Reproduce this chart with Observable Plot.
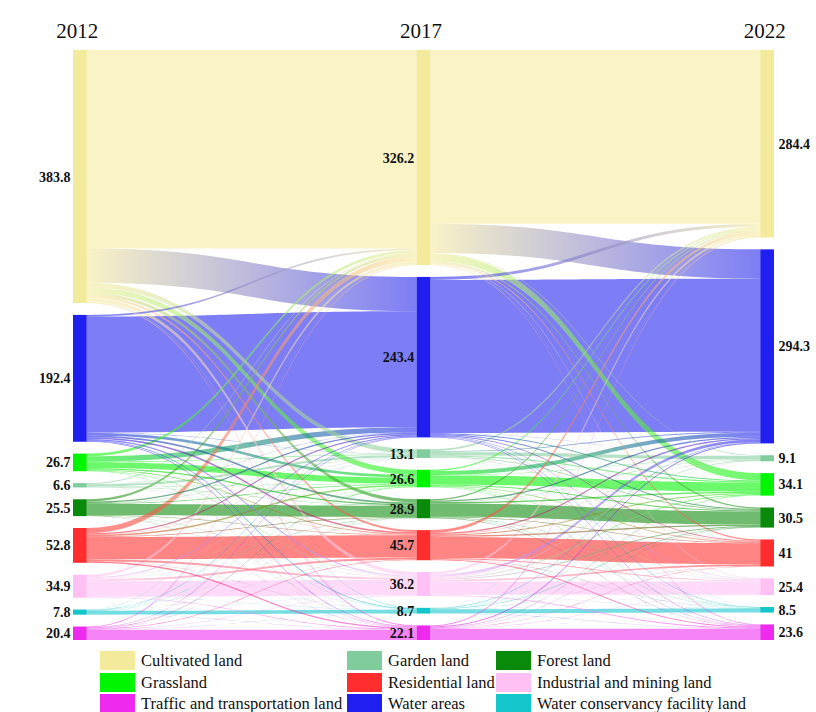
<!DOCTYPE html>
<html><head><meta charset="utf-8">
<script src="https://cdn.jsdelivr.net/npm/d3@7"></script>
<script src="https://cdn.jsdelivr.net/npm/@observablehq/plot@0.6"></script>
<style>
body{margin:0;background:#fff;}
#wrap{position:relative;width:816px;height:712px;font-family:"Liberation Serif","Times New Roman",serif;}
#wrap svg{position:absolute;left:0;top:0;}
.lg{position:absolute;font-size:16.5px;line-height:19px;white-space:nowrap;color:#111;}
.sw{position:absolute;width:35px;height:19px;}
</style></head><body><div id="wrap"></div>
<script>
// ---- data ----
const years = ["2012", "2017", "2022"];
const classes = ["Cultivated land", "Water areas", "Garden land", "Grassland", "Forest land",
  "Residential land", "Industrial and mining land", "Water conservancy facility land", "Traffic and transportation land"];
const colors = ["#f4ea9c", "#1f1fef", "#80cc9c", "#00f500", "#0a8a0a", "#ff2d2d", "#ffc0f4", "#12c6cc", "#ee2aee"];
// node order (top to bottom) in each year, as class indices
const order2012 = [0, 1, 3, 2, 4, 5, 6, 7, 8];
const order2017 = [0, 1, 2, 3, 4, 5, 6, 7, 8];
const order2022 = [0, 1, 2, 3, 4, 5, 6, 7, 8];
// node totals by class index
const totals2012 = [383.8, 192.4, 6.6, 26.7, 25.5, 52.8, 34.9, 7.8, 20.4];
const totals2017 = [326.2, 243.4, 13.1, 26.6, 28.9, 45.7, 36.2, 8.7, 22.1];
const totals2022 = [284.4, 294.3, 9.1, 34.1, 30.5, 41, 25.4, 8.5, 23.6];
// transfer matrices (rows: from class, cols: to class), estimated
const flows2012to2017 = [
  [301, 52, 7, 8, 5, 3, 5.5, 0.8, 1.5],
  [2.5, 176, 0.6, 4, 2.5, 2.5, 2, 1.3, 1],
  [1.5, 0.5, 3, 0.6, 0.5, 0.3, 0.1, 0, 0.1],
  [4, 8, 1, 9, 2, 1.2, 0.8, 0.3, 0.4],
  [3.5, 2, 0.5, 1, 17, 0.8, 0.4, 0.1, 0.2],
  [8, 2, 0.4, 2.3, 1, 33.9, 3, 0.2, 2],
  [4, 1.5, 0.5, 0.4, 0.5, 3, 23.7, 0.3, 1],
  [0.3, 0.7, 0, 0.4, 0.2, 0.2, 0.2, 5.5, 0.3],
  [1.4, 0.7, 0.1, 0.9, 0.2, 0.8, 0.5, 0.2, 15.6]
];
const flows2017to2022 = [
  [263.6, 44.4, 1, 11, 2, 2, 1, 0.2, 1],
  [4.5, 232.2, 0.3, 1.5, 1.5, 1.2, 0.8, 0.6, 0.8],
  [2.8, 1.5, 5, 1.7, 1, 0.5, 0.2, 0.1, 0.3],
  [2, 6, 0.5, 14, 1.5, 1, 0.6, 0.4, 0.6],
  [2, 2, 0.5, 2, 20, 1, 0.5, 0.3, 0.6],
  [4.3, 2, 0.5, 1.5, 2, 32.1, 1.5, 0.4, 1.4],
  [3.5, 4, 1.1, 1.5, 1.5, 2.5, 20.3, 0.3, 1.5],
  [0.2, 0.7, 0.1, 0.2, 0.7, 0.2, 0.1, 6.1, 0.4],
  [1.5, 1.5, 0.1, 0.7, 0.3, 0.5, 0.4, 0.1, 17]
];
const legendOrder = [0, 2, 4, 3, 5, 6, 8, 1, 7];

// ---- layout (in data units) ----
const NODE_W = 0.04, PAD = 18;
const orders = [order2012, order2017, order2022];
const totals = [totals2012, totals2017, totals2022];
const stages = [flows2012to2017, flows2017to2022];
const nodes = [];
const nodePos = orders.map((ord, ci) => {
  let y = 0; const p = {};
  ord.forEach(k => {
    const v = totals[ci][k];
    p[k] = {y0: y, y1: y + v};
    nodes.push({col: ci, cls: k, y0: y, y1: y + v, label: String(v)});
    y += v + PAD;
  });
  return p;
});
const totalH = d3.max(nodes, d => d.y1);

const links = [];
stages.forEach((M, s) => {
  const srcOrd = orders[s], tgtOrd = orders[s + 1];
  const sOff = {}, tOff = {};
  srcOrd.forEach(a => { let o = nodePos[s][a].y0; tgtOrd.forEach(b => { sOff[a + "_" + b] = o; o += M[a][b]; }); });
  tgtOrd.forEach(b => { let o = nodePos[s + 1][b].y0; srcOrd.forEach(a => { tOff[a + "_" + b] = o; o += M[a][b]; }); });
  srcOrd.forEach(a => tgtOrd.forEach(b => {
    const v = M[a][b];
    if (v > 0) links.push({s, a, b, v, sy: sOff[a + "_" + b], ty: tOff[a + "_" + b]});
  }));
});
function ribbon(l) {
  const x0 = l.s + NODE_W, x1 = l.s + 1, xm = (x0 + x1) / 2, N = 40, pts = [];
  for (let i = 0; i <= N; i++) {
    const t = i / N, u = 1 - t;
    const x = u*u*u*x0 + 3*u*u*t*xm + 3*u*t*t*xm + t*t*t*x1;
    const w0 = u*u*u + 3*u*u*t;
    const y = w0 * l.sy + (1 - w0) * l.ty;
    pts.push({x, top: y, bot: y + l.v});
  }
  return pts;
}
const sortedLinks = links.slice().sort((p, q) => q.v - p.v);
const linkMarks = sortedLinks.map(l => Plot.areaY(ribbon(l), {
  x: "x", y1: "top", y2: "bot", curve: "linear",
  fill: `url(#g${l.a}_${l.b})`, fillOpacity: 0.58
}));

const serif = "Liberation Serif, Times New Roman, serif";
const chart = Plot.plot({
  width: 816, height: 648,
  marginTop: 50, marginBottom: 8, marginLeft: 73, marginRight: 42,
  x: {domain: [0, 2 + NODE_W], range: [73, 774], axis: null},
  y: {domain: [0, totalH], range: [50, 640], axis: null},
  color: {type: "identity"},
  style: {background: "transparent"},
  marks: [
    ...linkMarks,
    Plot.rect(nodes, {x1: d => d.col, x2: d => d.col + NODE_W, y1: "y0", y2: "y1", fill: d => colors[d.cls]}),
    Plot.text(nodes.filter(d => d.col < 2), {x: "col", y: d => (d.y0 + d.y1) / 2, text: "label",
      textAnchor: "end", dx: -3, fontWeight: "bold", fontSize: 14, fontFamily: serif, fill: "#111"}),
    Plot.text(nodes.filter(d => d.col === 2), {x: d => d.col + NODE_W, y: d => (d.y0 + d.y1) / 2, text: "label",
      textAnchor: "start", dx: 4, fontWeight: "bold", fontSize: 14, fontFamily: serif, fill: "#111"}),
    Plot.text(years, {x: (d, i) => i + NODE_W / 2, frameAnchor: "top", dy: -27, dx: -3, text: d => d,
      fontSize: 21, fontFamily: serif, fill: "#111"})
  ]
});

// gradients for links (source colour -> target colour)
const ns = "http://www.w3.org/2000/svg";
const defs = document.createElementNS(ns, "defs");
const pairs = new Set(links.map(l => l.a + "_" + l.b));
pairs.forEach(p => {
  const [a, b] = p.split("_").map(Number);
  const g = document.createElementNS(ns, "linearGradient");
  g.setAttribute("id", "g" + p);
  g.setAttribute("x1", "0"); g.setAttribute("x2", "1"); g.setAttribute("y1", "0"); g.setAttribute("y2", "0");
  [[0, colors[a]], [1, colors[b]]].forEach(([o, c]) => {
    const st = document.createElementNS(ns, "stop");
    st.setAttribute("offset", o); st.setAttribute("stop-color", c);
    g.appendChild(st);
  });
  defs.appendChild(g);
});
chart.insertBefore(defs, chart.firstChild);

const wrap = document.getElementById("wrap");
wrap.appendChild(chart);

// legend (HTML, below the chart)
const colX = [100, 347, 496], rowY = [651, 673, 694];
legendOrder.forEach((k, i) => {
  const c = i % 3, r = Math.floor(i / 3);
  const sw = document.createElement("div");
  sw.className = "sw"; sw.style.left = colX[c] + "px"; sw.style.top = rowY[r] + "px"; sw.style.background = colors[k];
  const tx = document.createElement("div");
  tx.className = "lg"; tx.style.left = (colX[c] + 41) + "px"; tx.style.top = rowY[r] + "px"; tx.textContent = classes[k];
  wrap.appendChild(sw); wrap.appendChild(tx);
});
</script></body></html>
